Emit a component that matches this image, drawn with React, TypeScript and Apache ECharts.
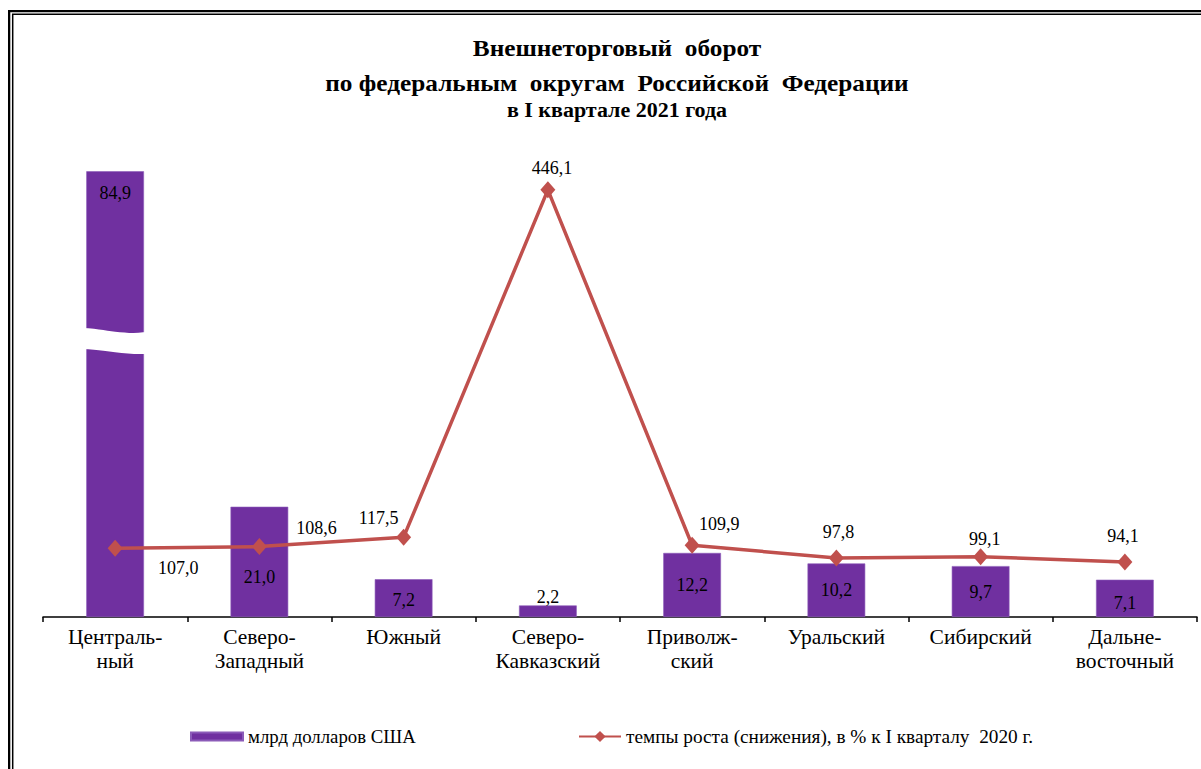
import React, { useEffect, useRef } from "react";
import * as echarts from "echarts";

const categories = [
  "Централь-\nный",
  "Северо-\nЗападный",
  "Южный",
  "Северо-\nКавказский",
  "Приволж-\nский",
  "Уральский",
  "Сибирский",
  "Дальне-\nвосточный",
];
const usdBn = [84.9, 21.0, 7.2, 2.2, 12.2, 10.2, 9.7, 7.1];
const growthPct = [107.0, 108.6, 117.5, 446.1, 109.9, 97.8, 99.1, 94.1];

const titleLines = [
  "Внешнеторговый  оборот",
  "по федеральным  округам  Российской  Федерации",
  "в I квартале 2021 года",
];
const legendBar = "млрд долларов США";
const legendLine = "темпы роста (снижения), в % к I кварталу  2020 г.";

// label placement (layout only)
const barLabelLayout: { position: string; offset: number[] }[] = [
  { position: "insideTop", offset: [0, 8] },
  { position: "inside", offset: [0, 15] },
  { position: "inside", offset: [0, 2] },
  { position: "top", offset: [0, 6] },
  { position: "inside", offset: [0, 0] },
  { position: "inside", offset: [0, 0] },
  { position: "inside", offset: [0, 0] },
  { position: "inside", offset: [0, 5] },
];
const lineLabelOffsets = [
  [63, 20],
  [57, -19],
  [-25, -19],
  [4, -22],
  [27, -21],
  [2, -26],
  [4, -18],
  [-2, -26],
];

const FONT = "'Liberation Serif', 'Times New Roman', serif";
const fmt = (v: number) => v.toFixed(1).replace(".", ",");

echarts.graphic.registerShape(
  "breakwave",
  echarts.graphic.extendPath(
    "M -40 -13 C -20 -13 -10 -10 0 -9 C 10 -8 20 -7 28 -8.5 L 40 -9 L 40 13.5 L 28 13.3 C 20 13.7 10 12.5 0 11.5 C -10 10.5 -20 8.5 -40 8 Z",
    {}
  )
);

export default function App() {
  const ref = useRef<HTMLDivElement>(null);
  useEffect(() => {
    if (!ref.current) return;
    const chart = echarts.init(ref.current, undefined, { renderer: "svg" });
    const option: any = {
      animation: false,
      backgroundColor: "#fff",
      grid: { left: 43, right: 4, top: 100, bottom: 152, containLabel: false },
      legend: [
        {
          data: [legendBar],
          left: 190,
          top: 727,
          padding: 0,
          icon: "rect",
          itemWidth: 52,
          itemHeight: 8,
          itemGap: 0,
          textStyle: { fontFamily: FONT, fontSize: 18.8, color: "#000", padding: [3, 0, 0, 0] },
        },
        {
          data: [legendLine],
          left: 578,
          top: 727,
          padding: 0,
          itemWidth: 42,
          itemHeight: 14,
          textStyle: { fontFamily: FONT, fontSize: 19.3, color: "#000", padding: [3, 0, 0, 0] },
        },
      ],
      xAxis: {
        type: "category",
        data: categories,
        axisLine: { lineStyle: { color: "#000", width: 1.5 } },
        axisTick: { show: true, length: 5, lineStyle: { color: "#000", width: 1.5 } },
        axisLabel: {
          interval: 0,
          fontFamily: FONT,
          fontSize: 21.5,
          lineHeight: 24,
          color: "#000",
          margin: 8,
        },
      },
      yAxis: [
        { type: "value", min: 0, max: 98.48, show: false, splitLine: { show: false } },
        { type: "value", min: 42, max: 531.1, show: false, splitLine: { show: false } },
      ],
      series: [
        {
          type: "bar",
          name: legendBar,
          barWidth: "40%",
          itemStyle: { color: "#7030A0", borderColor: "#8B5BB8", borderWidth: 0.6 },
          label: {
            show: true,
            fontFamily: FONT,
            fontSize: 18,
            color: "#000",
            formatter: (p: any) => fmt(p.value),
          },
          data: usdBn.map((v, i) => ({
            value: v,
            label: { position: barLabelLayout[i].position, offset: barLabelLayout[i].offset, distance: 5 },
          })),
          z: 2,
        },
        {
          type: "line",
          name: legendLine,
          yAxisIndex: 1,
          symbol: "diamond",
          symbolSize: [15, 17],
          lineStyle: { color: "#C0504D", width: 3.5 },
          itemStyle: { color: "#C0504D" },
          label: {
            show: true,
            position: "inside",
            fontFamily: FONT,
            fontSize: 18,
            color: "#000",
            formatter: (p: any) => fmt(p.value),
          },
          data: growthPct.map((v, i) => ({ value: v, label: { offset: lineLabelOffsets[i] } })),
          z: 3,
        },
      ],
    };
    chart.setOption(option);

    const breakVal = usdBn[0] * 0.62;
    const pt = chart.convertToPixel({ xAxisIndex: 0, yAxisIndex: 0 }, [0, breakVal]) as number[];

    const titleFonts = [
      { size: 23, y: 48, sx: 1.1 },
      { size: 23, y: 83, sx: 1.1 },
      { size: 20, y: 110, sx: 1.1 },
    ];

    chart.setOption({
      graphic: [
        {
          type: "rect",
          silent: true,
          shape: { x: 9.15, y: 11.15, width: 1400, height: 1000 },
          style: { fill: "none", stroke: "#000", lineWidth: 2.3 },
        },
        {
          type: "rect",
          silent: true,
          shape: { x: 12.7, y: 14.2, width: 1400, height: 1000 },
          style: { fill: "none", stroke: "#000", lineWidth: 1.5 },
        },
        ...titleLines.map((t, i) => ({
          type: "text",
          silent: true,
          x: 617,
          y: titleFonts[i].y,
          scaleX: titleFonts[i].sx,
          style: {
            text: t,
            fontFamily: FONT,
            fontWeight: "bold",
            fontSize: titleFonts[i].size,
            fill: "#000",
            textAlign: "center",
            textVerticalAlign: "middle",
          },
        })),
        {
          type: "breakwave",
          silent: true,
          x: pt[0],
          y: pt[1],
          z: 100,
          style: { fill: "#fff", stroke: "none" },
        },
      ],
    });

    return () => chart.dispose();
  }, []);
  return (
    <div
      ref={ref}
      style={{ position: "fixed", left: 0, top: 0, width: 1201, height: 769, background: "#fff" }}
    />
  );
}
